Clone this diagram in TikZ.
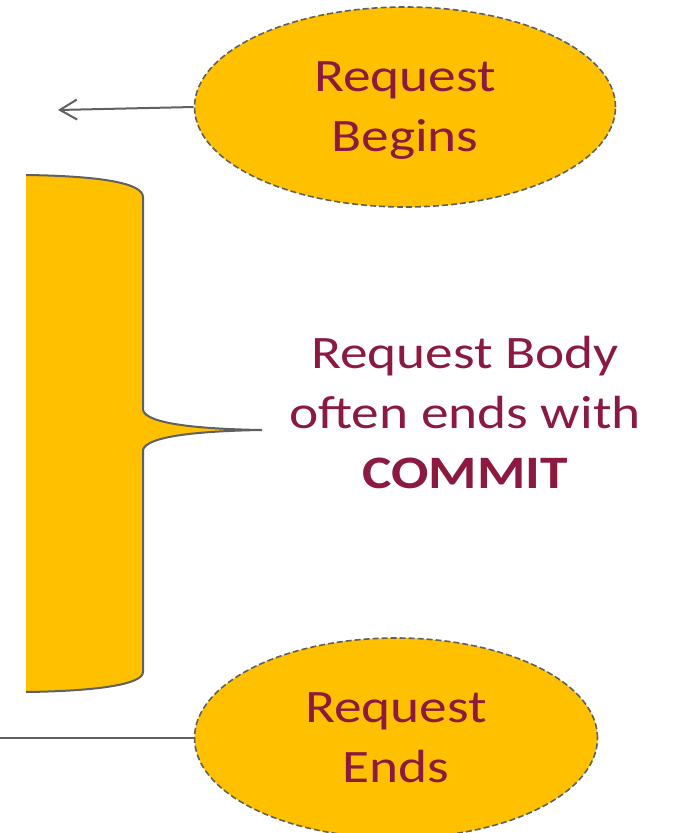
\documentclass[tikz,border=0pt]{standalone}
\usepackage{fontspec}
\setmainfont[FakeStretch=1.19]{Carlito}
\usetikzlibrary{shapes.geometric,arrows.meta}
\definecolor{gold}{HTML}{FFC000}
\definecolor{wine}{HTML}{8B1A3E}
\definecolor{edge}{HTML}{606060}

\begin{document}
\begin{tikzpicture}[x=1pt,y=-1pt,
        every node/.style={font=\fontsize{46.5}{60}\selectfont, text=wine, align=center},
        phase/.style={ellipse, draw=edge, dash pattern=on 6pt off 3pt, line width=1.6pt, fill=gold, inner sep=0pt, text depth=0pt},
        link/.style={draw=edge, line width=2pt}]
    \useasboundingbox (0,0) rectangle (674,833);
    % brace round the request body
    \draw[link, fill=gold] (26,175) .. controls (100,176) and (143,183) .. (143,197) -- (143,410)
        .. controls (146,424) and (200,429) .. (262,430)
        .. controls (200,431) and (146,436) .. (143,450) -- (143,672)
        .. controls (143,684) and (100,691) .. (26,692);
    % start and end of the request
    \node[phase, minimum width=421pt, minimum height=200pt] (begins) at (405,107) {Request\\Begins};
    \node[phase, minimum width=403pt, minimum height=200pt] (ends) at (396,738) {Request\\Ends};
    \node (body) at (465,413) {Request Body\\often ends with\\\textbf{COMMIT}};
    % connectors
    \coordinate (start) at (58,110);
    \coordinate (out) at (0,738);
    \draw[link, -{Straight Barb[length=17pt,width=20pt]}] (begins.west) -- (start);
    \draw[link] (ends.west) -- (out);
\end{tikzpicture}
\end{document}
